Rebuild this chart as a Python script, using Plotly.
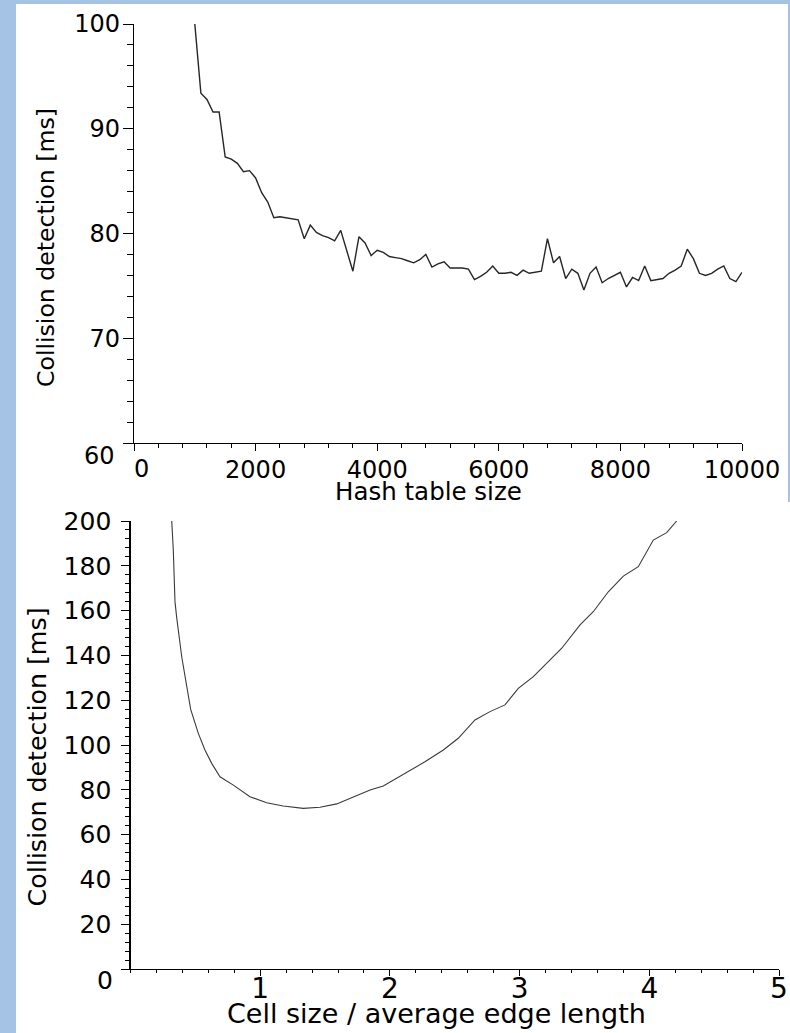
import plotly.graph_objects as go

W, H = 790, 1033

# ---- Data: top panel (hash table size vs collision detection time) ----
hash_size = list(range(1000, 10001, 100))
hash_ms = [
    100.0, 93.4, 92.8, 91.6, 91.6, 87.3, 87.1, 86.7, 85.9, 86.0,
    85.3, 83.9, 83.0, 81.5, 81.6, 81.5, 81.4, 81.3, 79.5, 80.8,
    80.1, 79.8, 79.6, 79.3, 80.3, 78.4, 76.4, 79.7, 79.1, 77.9,
    78.4, 78.2, 77.8, 77.7, 77.6, 77.4, 77.2, 77.5, 78.0, 76.8,
    77.1, 77.3, 76.7, 76.7, 76.7, 76.6, 75.6, 75.9, 76.3, 76.9,
    76.2, 76.2, 76.3, 76.0, 76.5, 76.2, 76.3, 76.4, 79.5, 77.2,
    77.8, 75.7, 76.6, 76.2, 74.6, 76.2, 76.8, 75.3, 75.7, 76.0,
    76.3, 74.9, 75.8, 75.5, 76.9, 75.5, 75.6, 75.7, 76.2, 76.5,
    76.9, 78.5, 77.6, 76.2, 76.0, 76.2, 76.6, 76.9, 75.7, 75.4,
    76.3,
]

# ---- Data: bottom panel (cell size / avg edge length vs time) ----
cell_ratio = [0.318, 0.330, 0.343, 0.356, 0.395, 0.428, 0.464, 0.523, 0.574,
              0.626, 0.690, 0.793, 0.921, 1.050, 1.178, 1.332, 1.461, 1.590,
              1.718, 1.847, 1.949, 2.052, 2.155, 2.270, 2.412, 2.527, 2.656,
              2.772, 2.887, 2.990, 3.106, 3.221, 3.325, 3.466, 3.568, 3.684,
              3.800, 3.915, 4.031, 4.134, 4.211]
cell_ms = [200.0, 187.0, 164.0, 157.0, 139.4, 127.5, 115.9, 105.2, 97.8,
           91.8, 85.8, 82.1, 76.9, 74.2, 72.8, 71.7, 72.2, 73.7,
           76.9, 79.9, 81.7, 85.1, 88.8, 92.5, 97.8, 103.0, 111.2,
           114.9, 117.9, 125.3, 130.5, 137.2, 143.2, 153.6, 159.5, 168.4,
           175.4, 179.6, 191.5, 194.8, 200.0]

# tick labels
top_xticks = [0, 2000, 4000, 6000, 8000, 10000]
top_yticks = [60, 70, 80, 90, 100]
bot_xticks = [1, 2, 3, 4, 5]
bot_yticks = [0, 20, 40, 60, 80, 100, 120, 140, 160, 180, 200]

x_title_top = "Hash table size"
x_title_bot = "Cell size / average edge length"
y_title = "Collision detection [ms]"

FONT = "DejaVu Sans"
BLUE = "rgb(165,195,228)"


def fx(px):
    return px / W


def fy(py):
    return 1 - py / H


fig = go.Figure()
fig.add_trace(go.Scatter(x=hash_size, y=hash_ms, mode="lines",
                         line=dict(color="#262626", width=1.4),
                         xaxis="x", yaxis="y", showlegend=False))
fig.add_trace(go.Scatter(x=cell_ratio, y=cell_ms, mode="lines",
                         line=dict(color="#3a3a3a", width=1.1),
                         xaxis="x2", yaxis="y2", showlegend=False))

common = dict(showline=True, linecolor="black", linewidth=1.2, ticks="outside",
              tickcolor="black", tickwidth=1, showgrid=False, zeroline=False,
              tickmode="array", fixedrange=True, automargin=False)

fig.update_layout(
    template="none",
    width=W, height=H,
    margin=dict(l=0, r=0, t=0, b=0, pad=0, autoexpand=False),
    paper_bgcolor=BLUE,
    plot_bgcolor="white",
    font=dict(family=FONT, color="black"),
    xaxis=dict(domain=[fx(134), fx(742)], range=[0, 10000], anchor="y",
               tickvals=top_xticks,
               ticktext=["" if v == 0 else str(v) for v in top_xticks],
               ticklen=7, tickfont=dict(size=24), ticklabelstandoff=-2,
               minor=dict(dtick=400, tick0=0, ticklen=4, ticks="outside",
                          tickcolor="black", tickwidth=1),
               **common),
    yaxis=dict(domain=[fy(443), fy(24)], range=[60, 100], anchor="x",
               tickvals=top_yticks,
               ticktext=["" if v == 60 else str(v) for v in top_yticks],
               ticklen=10, tickfont=dict(size=24), ticklabelstandoff=-2,
               minor=dict(dtick=2, tick0=60, ticklen=6, ticks="outside",
                          tickcolor="black", tickwidth=1),
               **common),
    xaxis2=dict(domain=[fx(130.5), fx(779)], range=[0, 5], anchor="y2",
                tickvals=bot_xticks, ticktext=[str(v) for v in bot_xticks],
                ticklen=6, tickfont=dict(size=28), ticklabelstandoff=-12,
                minor=dict(dtick=0.2, tick0=0, ticklen=3, ticks="outside",
                           tickcolor="black", tickwidth=1),
                **common),
    yaxis2=dict(domain=[fy(969), fy(521)], range=[0, 200], anchor="x2",
                tickvals=bot_yticks,
                ticktext=["" if v == 0 else str(v) for v in bot_yticks],
                ticklen=8, tickfont=dict(size=25), ticklabelstandoff=5,
                minor=dict(dtick=4, tick0=0, ticklen=4, ticks="outside",
                           tickcolor="black", tickwidth=1),
                **common),
    shapes=[
        dict(type="rect", xref="paper", yref="paper", x0=fx(16), x1=fx(788),
             y0=fy(502), y1=fy(4), fillcolor="white", line=dict(width=0),
             layer="below"),
        dict(type="rect", xref="paper", yref="paper", x0=fx(16), x1=1,
             y0=0, y1=fy(502), fillcolor="white", line=dict(width=0),
             layer="below"),
    ],
    annotations=[
        # shifted corner tick labels
        dict(text="60", x=0, y=60, xref="x", yref="y", xanchor="right",
             yanchor="middle", xshift=-17, yshift=-13, showarrow=False,
             font=dict(size=24)),
        dict(text="0", x=0, y=60, xref="x", yref="y", xanchor="center",
             yanchor="top", xshift=7, yshift=-10, showarrow=False,
             font=dict(size=24)),
        dict(text="0", x=0, y=0, xref="x2", yref="y2", xanchor="right",
             yanchor="middle", xshift=-16, yshift=-11, showarrow=False,
             font=dict(size=25)),
        # axis titles
        dict(text=x_title_top, x=fx(428), y=fy(491), xref="paper", yref="paper",
             xanchor="center", yanchor="middle", showarrow=False,
             font=dict(size=24.5)),
        dict(text=y_title, x=fx(45.5), y=fy(247.5), xref="paper", yref="paper",
             xanchor="center", yanchor="middle", showarrow=False, textangle=-90,
             font=dict(size=23.6)),
        dict(text=x_title_bot, x=fx(436), y=fy(1013), xref="paper", yref="paper",
             xanchor="center", yanchor="middle", showarrow=False,
             font=dict(size=27)),
        dict(text=y_title, x=fx(37), y=fy(757.5), xref="paper", yref="paper",
             xanchor="center", yanchor="middle", showarrow=False, textangle=-90,
             font=dict(size=25.3)),
    ],
)

fig.write_html(
    "out.html",
    config={"displayModeBar": False, "staticPlot": True},
    post_script="document.body.style.margin='0';"
                "document.body.style.padding='0';"
                "document.body.style.overflow='hidden';",
)
